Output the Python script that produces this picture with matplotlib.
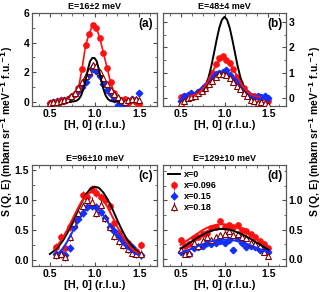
import matplotlib
matplotlib.use('Agg')
import matplotlib.pyplot as plt
from matplotlib.ticker import AutoMinorLocator

plt.rcParams['font.family'] = ['Liberation Sans', 'DejaVu Sans']
plt.rcParams['font.weight'] = 'bold'
plt.rcParams['mathtext.default'] = 'bf'

# ---- panel (a) E=16 meV ----
xa = [0.50, 0.54, 0.58, 0.62, 0.66, 0.70, 0.74, 0.78, 0.82, 0.86, 0.90, 0.94, 0.98,
      1.02, 1.06, 1.10, 1.14, 1.18, 1.22, 1.26, 1.30, 1.34, 1.38, 1.42, 1.46, 1.50]
red_a = [-0.1, 0.0, -0.05, 0.1, 0.05, 0.2, 0.3, 0.5, 0.9, 2.2, 3.8, 4.6, 5.2,
         5.0, 4.3, 3.3, 2.3, 1.3, 0.6, 0.2, 0.1, 0.2, -0.1, 0.1, 0.0, -0.15]
blue_a = [-0.1, 0.0, 0.05, 0.1, 0.1, 0.2, 0.3, 0.5, 0.7, 1.0, 1.3, 1.8, 2.2,
          2.1, 1.7, 1.2, 0.8, 0.5, 0.2, -0.2, -0.25, -0.15, 0.0, 0.2, 0.1, 0.6]
brown_a = [-0.1, -0.05, 0.0, 0.05, 0.1, 0.2, 0.4, 0.6, 0.9, 1.3, 1.7, 2.1, 2.5,
           2.4, 2.0, 1.6, 1.2, 0.8, 0.5, 0.3, 0.1, 0.0, 0.1, 0.2, 0.15, 0.1]
black_xa = [0.725, 0.75, 0.775, 0.80, 0.825, 0.85, 0.875, 0.90, 0.925, 0.95, 0.975, 1.0,
            1.025, 1.05, 1.075, 1.10, 1.125, 1.15, 1.175, 1.20, 1.225, 1.25, 1.275]
black_a = [0.0, 0.0, 0.02, 0.06, 0.17, 0.41, 0.84, 1.45, 2.15, 2.73, 2.95, 2.95,
           2.73, 2.15, 1.45, 0.84, 0.41, 0.17, 0.06, 0.02, 0.0, 0.0, 0.0]

# ---- panel (b) E=48 meV ----
xb = xa
red_b = [0.05, 0.1, 0.1, 0.15, 0.15, 0.25, 0.3, 0.45, 0.7, 1.0, 1.35, 1.6, 1.65,
         1.5, 1.4, 1.15, 0.85, 0.6, 0.4, 0.2, 0.1, 0.1, 0.05, 0.0, 0.05, -0.1]
blue_b = [-0.1, 0.1, 0.15, 0.2, 0.15, 0.25, 0.35, 0.5, 0.65, 0.8, 0.95, 1.0, 1.05,
          1.1, 0.9, 0.75, 0.6, 0.45, 0.3, 0.2, 0.1, 0.05, 0.1, 0.05, 0.1, 0.0]
brown_b = [-0.2, -0.1, 0.0, 0.05, 0.1, 0.2, 0.3, 0.4, 0.55, 0.7, 0.85, 0.95, 0.95,
           0.9, 0.8, 0.65, 0.5, 0.35, 0.2, 0.1, -0.05, -0.1, -0.2, -0.15, -0.2, -0.25]
black_xb = [0.76, 0.79, 0.82, 0.85, 0.88, 0.91, 0.94, 0.97, 1.0,
            1.03, 1.06, 1.09, 1.12, 1.15, 1.18, 1.21, 1.24]
black_b = [0.30, 0.52, 0.84, 1.26, 1.77, 2.29, 2.76, 3.08, 3.20,
           3.08, 2.76, 2.29, 1.77, 1.26, 0.84, 0.52, 0.30]
fit_xb = [0.60, 0.65, 0.70, 0.75, 0.80, 0.85, 0.90, 0.95, 1.00, 1.05, 1.10, 1.15,
          1.20, 1.25, 1.30, 1.35, 1.40]
red_fit_b = [0.08, 0.12, 0.2, 0.35, 0.6, 0.95, 1.28, 1.5, 1.55, 1.42, 1.15, 0.82,
             0.52, 0.3, 0.16, 0.09, 0.06]

# ---- panel (c) E=96 meV ----
xc = [0.57, 0.62, 0.67, 0.72, 0.77, 0.82, 0.87, 0.92, 0.97, 1.02,
      1.07, 1.12, 1.17, 1.22, 1.27, 1.32, 1.37, 1.42, 1.47, 1.52]
red_c = [0.22, 0.38, 0.20, 0.55, 0.65, 0.75, 1.08, 1.05, 1.18, 1.12,
         1.05, 1.00, 0.90, 0.62, 0.45, 0.35, 0.28, 0.20, 0.15, 0.25]
blue_c = [0.10, 0.12, 0.08, 0.20, 0.55, 0.68, 0.78, 0.88, 0.90, 0.88,
          0.80, 0.70, 0.55, 0.48, 0.40, 0.32, 0.25, 0.22, 0.12, 0.08]
brown_c = [0.08, 0.10, 0.05, 0.38, 0.62, 0.78, 0.90, 1.00, 0.97, 0.78,
           0.92, 0.70, 0.55, 0.40, 0.32, 0.25, 0.18, 0.12, 0.10, 0.10]
black_xc = [0.50, 0.55, 0.60, 0.65, 0.70, 0.75, 0.80, 0.85, 0.90, 0.95, 1.00,
            1.05, 1.10, 1.15, 1.20, 1.25, 1.30, 1.35, 1.40, 1.45, 1.50]
black_c = [0.10, 0.155, 0.23, 0.33, 0.46, 0.62, 0.78, 0.94, 1.08, 1.18, 1.22,
           1.20, 1.12, 1.00, 0.85, 0.68, 0.52, 0.38, 0.27, 0.18, 0.12]
fit_xc = [0.55, 0.60, 0.65, 0.70, 0.75, 0.80, 0.85, 0.90, 0.95, 1.00,
          1.05, 1.10, 1.15, 1.20, 1.25, 1.30, 1.35, 1.40, 1.45, 1.50]
red_fit_c = [0.18, 0.27, 0.38, 0.52, 0.67, 0.82, 0.96, 1.06, 1.12, 1.13,
             1.09, 1.0, 0.87, 0.72, 0.57, 0.43, 0.31, 0.22, 0.15, 0.10]
blue_fit_c = [None, 0.12, 0.2, 0.32, 0.46, 0.6, 0.73, 0.83, 0.88, 0.88,
              0.83, 0.74, 0.63, 0.51, 0.4, 0.3, 0.22, 0.16, 0.11, 0.08]

# ---- panel (d) E=129 meV ----
xd = [0.50, 0.55, 0.60, 0.65, 0.70, 0.75, 0.80, 0.85, 0.90, 0.95, 1.00,
      1.05, 1.10, 1.15, 1.20, 1.25, 1.30, 1.35, 1.40, 1.45, 1.50]
red_d = [0.32, 0.22, 0.25, 0.35, 0.38, 0.42, 0.45, 0.52, 0.55, 0.65, 0.55,
         0.58, 0.55, 0.58, 0.50, 0.48, 0.42, 0.38, 0.30, 0.25, 0.18]
blue_d = [0.12, 0.10, 0.08, 0.18, 0.20, 0.22, 0.28, 0.25, 0.28, 0.30, 0.28,
          0.32, 0.15, 0.35, 0.28, 0.20, 0.22, 0.20, 0.15, 0.18, 0.12]
brown_d = [0.15, 0.08, 0.10, 0.28, 0.22, 0.30, 0.38, 0.32, 0.38, 0.40, 0.42,
           0.48, 0.40, 0.42, 0.38, 0.35, 0.28, 0.25, 0.22, 0.12, 0.05]
black_d = [0.18, 0.22, 0.27, 0.32, 0.37, 0.41, 0.45, 0.48, 0.50, 0.51, 0.51,
           0.50, 0.48, 0.45, 0.42, 0.38, 0.34, 0.29, 0.25, 0.20, 0.16]
red_fit_d = [0.24, 0.29, 0.34, 0.39, 0.44, 0.49, 0.53, 0.56, 0.58, 0.59, 0.59,
             0.58, 0.56, 0.53, 0.49, 0.45, 0.40, 0.35, 0.30, 0.25, 0.20]
blue_fit_d = [0.10, 0.13, 0.16, 0.19, 0.22, 0.25, 0.28, 0.30, 0.32, 0.33, 0.33,
              0.33, 0.32, 0.30, 0.28, 0.26, 0.23, 0.20, 0.17, 0.14, 0.11]

titles = ['E=16\u00b12 meV', 'E=48\u00b14 meV', 'E=96\u00b110 meV', 'E=129\u00b110 meV']
tags = ['(a)', '(b)', '(c)', '(d)']
ylims = [(-0.3, 6.0), (-0.3, 3.35), (-0.1, 1.58), (-0.12, 1.6)]
yticks = [[0, 2, 4, 6], [0, 1, 2, 3], [0.0, 0.5, 1.0, 1.5], [0.0, 0.5, 1.0]]
errs = [0.15, 0.08, 0.07, 0.05]

RED = '#ff1010'
BLUE = '#1030ff'
BROWN = '#800000'

W, H = 323, 292
fig = plt.figure(figsize=(W / 100, H / 100), dpi=100)
pos = [(32, 13, 125, 93), (163, 13, 123, 93), (32, 165, 125, 101), (163, 165, 123, 101)]
axes = [fig.add_axes([l / W, 1 - (t + h) / H, w / W, h / H]) for l, t, w, h in pos]


def pts(ax, x, y, err, kind, line=False):
    if kind == 'red':
        kw = dict(fmt='o', color=RED, ms=3.8, mec=RED)
    elif kind == 'blue':
        kw = dict(fmt='D', color=BLUE, ms=3.3, mec=BLUE)
    else:
        kw = dict(fmt='^', color=BROWN, ms=3.8, mfc='white', mec=BROWN, mew=0.8)
    ax.errorbar(x, y, yerr=err, elinewidth=0.8, capsize=0, zorder=3, **kw)
    if line:
        ax.plot(x, y, color=kw['color'], lw=1.2, zorder=2)


# (a)
ax = axes[0]
ax.plot(black_xa, black_a, color='black', lw=1.4, zorder=4)
pts(ax, xa, blue_a, errs[0], 'blue')
pts(ax, xa, red_a, errs[0], 'red', line=True)
pts(ax, xa, brown_a, errs[0], 'brown', line=True)

# (b)
ax = axes[1]
ax.plot(black_xb, black_b, color='black', lw=1.4, zorder=4)
ax.plot(fit_xb, red_fit_b, color=RED, lw=1.4, zorder=4)
pts(ax, xb, red_b, errs[1], 'red')
pts(ax, xb, blue_b, errs[1], 'blue', line=True)
pts(ax, xb, brown_b, errs[1], 'brown', line=True)

# (c)
ax = axes[2]
ax.plot(black_xc, black_c, color='black', lw=1.4, zorder=4)
ax.plot(fit_xc, red_fit_c, color=RED, lw=1.4, zorder=4)
ax.plot(fit_xc[1:], blue_fit_c[1:], color=BLUE, lw=1.4, zorder=4)
pts(ax, xc, red_c, errs[2], 'red')
pts(ax, xc, blue_c, errs[2], 'blue')
pts(ax, xc, brown_c, errs[2], 'brown')

# (d)
ax = axes[3]
ax.plot(xd, black_d, color='black', lw=1.4, zorder=4, label='x=0')
ax.plot(xd, red_fit_d, color=RED, lw=1.4, zorder=4)
ax.plot(xd, blue_fit_d, color=BLUE, lw=1.4, zorder=4)
ax.errorbar(xd, red_d, yerr=errs[3], fmt='o', color=RED, ms=3.8, elinewidth=0.8,
            zorder=3, label='x=0.096')
ax.errorbar(xd, blue_d, yerr=errs[3], fmt='D', color=BLUE, ms=3.3, elinewidth=0.8,
            zorder=3, label='x=0.15')
ax.errorbar(xd, brown_d, yerr=errs[3], fmt='^', color=BROWN, ms=3.8, mfc='white',
            mec=BROWN, mew=0.8, elinewidth=0.8, zorder=3, label='x=0.18')
leg = ax.legend(loc='upper left', frameon=False, fontsize=6.5, handlelength=1.3,
                handletextpad=0.4, labelspacing=0.2, borderaxespad=0.2,
                bbox_to_anchor=(0.0, 1.0))

for i, ax in enumerate(axes):
    ax.set_xlim(0.3, 1.7)
    ax.set_ylim(*ylims[i])
    ax.set_xticks([0.5, 1.0, 1.5])
    ax.set_xticklabels(['0.5', '1.0', '1.5'])
    ax.set_yticks(yticks[i])
    if i in (0,):
        ax.set_yticklabels(['0', '2', '4', '6'])
    if i == 1:
        ax.set_yticklabels(['0', '1', '2', '3'])
    if i in (2, 3):
        ax.set_yticklabels(['%.1f' % v for v in yticks[i]])
    ax.xaxis.set_minor_locator(AutoMinorLocator(4))
    ax.yaxis.set_minor_locator(AutoMinorLocator(2))
    ax.tick_params(which='both', direction='in', top=True, right=True,
                   labelsize=7.5, pad=2, color='0.3')
    ax.tick_params(which='major', length=3, width=0.8)
    ax.tick_params(which='minor', length=1.8, width=0.6)
    if i in (1, 3):
        ax.tick_params(labelleft=False, labelright=True)
    for s in ax.spines.values():
        s.set_color('0.35')
        s.set_linewidth(0.9)
    ax.set_title(titles[i], fontsize=6.5, fontweight='bold', pad=3)
    ax.set_xlabel('[H, 0] (r.l.u.)', fontsize=8, fontweight='bold', labelpad=1)
    ax.text(0.97, 0.95, tags[i], transform=ax.transAxes, ha='right', va='top',
            fontsize=8.5, fontweight='bold')

ylab = r'S (Q, E) (mbarn sr$^{-1}$ meV$^{-1}$ f.u.$^{-1}$)'
fig.text(0.022, 0.55, ylab, rotation=90, ha='center', va='center', fontsize=7.5,
         fontweight='bold')
fig.text(0.975, 0.55, ylab, rotation=90, ha='center', va='center', fontsize=7.5,
         fontweight='bold')

fig.savefig('out.png', dpi=100, facecolor='white')
